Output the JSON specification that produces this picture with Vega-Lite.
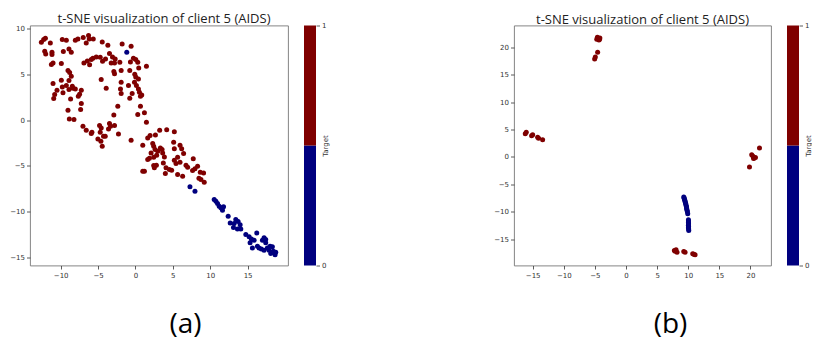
{
  "$schema": "https://vega.github.io/schema/vega-lite/v6.json",
  "padding": {"left": 9, "top": 11.5, "right": 0, "bottom": 0},
  "background": "white",
  "datasets": {
    "a": [
      {"x": -12.58, "y": 8.47, "target": 1}, {"x": -12.27, "y": 8.77, "target": 1}, {"x": -12.04, "y": 8.91, "target": 1}, {"x": -11.38, "y": 8.40, "target": 1},
      {"x": -12.13, "y": 7.49, "target": 1}, {"x": -12.0, "y": 7.20, "target": 1}, {"x": -11.16, "y": 7.39, "target": 1}, {"x": -11.16, "y": 7.13, "target": 1},
      {"x": -9.78, "y": 8.77, "target": 1}, {"x": -9.24, "y": 8.69, "target": 1}, {"x": -9.64, "y": 7.46, "target": 1}, {"x": -8.89, "y": 7.75, "target": 1},
      {"x": -8.58, "y": 7.39, "target": 1}, {"x": -8.04, "y": 8.69, "target": 1}, {"x": -7.69, "y": 8.84, "target": 1}, {"x": -6.98, "y": 8.98, "target": 1},
      {"x": -6.58, "y": 8.40, "target": 1}, {"x": -6.27, "y": 9.20, "target": 1}, {"x": -6.18, "y": 8.84, "target": 1}, {"x": -5.64, "y": 8.84, "target": 1},
      {"x": -4.44, "y": 8.51, "target": 1}, {"x": -3.69, "y": 8.15, "target": 1}, {"x": -1.78, "y": 8.29, "target": 1}, {"x": -0.58, "y": 8.04, "target": 1},
      {"x": -11.02, "y": 6.22, "target": 1}, {"x": -11.24, "y": 6.04, "target": 1}, {"x": -9.91, "y": 6.15, "target": 1}, {"x": -9.02, "y": 5.39, "target": 1},
      {"x": -8.80, "y": 5.17, "target": 1}, {"x": -8.58, "y": 4.77, "target": 1}, {"x": -6.89, "y": 6.22, "target": 1}, {"x": -6.44, "y": 6.44, "target": 1},
      {"x": -6.13, "y": 6.01, "target": 1}, {"x": -5.91, "y": 6.59, "target": 1}, {"x": -5.69, "y": 6.73, "target": 1}, {"x": -5.24, "y": 6.88, "target": 1},
      {"x": -4.71, "y": 6.84, "target": 1}, {"x": -4.40, "y": 6.41, "target": 1}, {"x": -4.0, "y": 6.66, "target": 1}, {"x": -3.47, "y": 7.24, "target": 1},
      {"x": -3.07, "y": 6.88, "target": 1}, {"x": -2.71, "y": 6.66, "target": 1}, {"x": -3.24, "y": 6.22, "target": 1}, {"x": -2.80, "y": 6.22, "target": 1},
      {"x": -2.09, "y": 6.30, "target": 1}, {"x": -0.67, "y": 6.33, "target": 1}, {"x": -0.27, "y": 6.73, "target": 1}, {"x": 0.04, "y": 6.59, "target": 1},
      {"x": 0.31, "y": 6.30, "target": 1}, {"x": 0.44, "y": 5.68, "target": 1}, {"x": 1.47, "y": 5.86, "target": 1}, {"x": -0.76, "y": 5.39, "target": 1},
      {"x": -11.02, "y": 3.97, "target": 1}, {"x": -10.8, "y": 2.77, "target": 1}, {"x": -10.93, "y": 2.34, "target": 1}, {"x": -10.49, "y": 3.25, "target": 1},
      {"x": -9.91, "y": 4.34, "target": 1}, {"x": -9.78, "y": 3.61, "target": 1}, {"x": -9.69, "y": 2.96, "target": 1}, {"x": -9.24, "y": 3.75, "target": 1},
      {"x": -8.89, "y": 4.30, "target": 1}, {"x": -8.89, "y": 3.32, "target": 1}, {"x": -8.44, "y": 3.68, "target": 1}, {"x": -8.36, "y": 3.46, "target": 1},
      {"x": -8.67, "y": 2.30, "target": 1}, {"x": -8.04, "y": 3.39, "target": 1}, {"x": -7.47, "y": 2.81, "target": 1}, {"x": -7.64, "y": 2.59, "target": 1},
      {"x": -7.24, "y": 3.25, "target": 1}, {"x": -4.58, "y": 4.41, "target": 1}, {"x": -3.91, "y": 3.46, "target": 1}, {"x": -2.89, "y": 5.28, "target": 1},
      {"x": -2.80, "y": 5.03, "target": 1}, {"x": -1.91, "y": 5.39, "target": 1}, {"x": -1.91, "y": 4.12, "target": 1}, {"x": -2.0, "y": 3.39, "target": 1},
      {"x": -1.91, "y": 2.88, "target": 1}, {"x": -0.93, "y": 3.75, "target": 1}, {"x": -0.09, "y": 4.99, "target": 1}, {"x": 0.04, "y": 4.70, "target": 1},
      {"x": 0.4, "y": 4.48, "target": 1}, {"x": -0.13, "y": 4.12, "target": 1}, {"x": 0.13, "y": 3.75, "target": 1}, {"x": 0.4, "y": 3.39, "target": 1},
      {"x": -0.44, "y": 2.88, "target": 1}, {"x": 0.53, "y": 3.03, "target": 1}, {"x": 0.67, "y": 2.59, "target": 1}, {"x": -0.76, "y": 2.37, "target": 1},
      {"x": 0.84, "y": 2.74, "target": 1}, {"x": -9.02, "y": 1.07, "target": 1}, {"x": -8.84, "y": 0.12, "target": 1}, {"x": -8.22, "y": 0.05, "target": 1},
      {"x": -7.24, "y": 1.79, "target": 1}, {"x": -7.33, "y": 1.14, "target": 1}, {"x": -2.36, "y": 1.50, "target": 1}, {"x": -2.89, "y": 0.56, "target": 1},
      {"x": 0.31, "y": 0.60, "target": 1}, {"x": 1.2, "y": 0.78, "target": 1}, {"x": 0.67, "y": 1.50, "target": 1}, {"x": 1.47, "y": -0.24, "target": 1},
      {"x": -7.02, "y": -0.68, "target": 1}, {"x": -6.58, "y": -1.11, "target": 1}, {"x": -5.82, "y": -1.33, "target": 1}, {"x": -5.91, "y": -1.47, "target": 1},
      {"x": -4.8, "y": -0.60, "target": 1}, {"x": -4.58, "y": -0.86, "target": 1}, {"x": -4.71, "y": -1.33, "target": 1}, {"x": -5.02, "y": -2.06, "target": 1},
      {"x": -4.62, "y": -2.31, "target": 1}, {"x": -4.44, "y": -2.85, "target": 1}, {"x": -4.27, "y": -1.76, "target": 1}, {"x": -4.04, "y": -1.76, "target": 1},
      {"x": -3.47, "y": -0.38, "target": 1}, {"x": -3.6, "y": -0.97, "target": 1}, {"x": -3.33, "y": -0.68, "target": 1}, {"x": -2.80, "y": -0.60, "target": 1},
      {"x": -2.27, "y": -1.51, "target": 1}, {"x": -0.58, "y": -2.20, "target": 1}, {"x": 0.98, "y": -2.75, "target": 1}, {"x": 1.64, "y": -1.95, "target": 1},
      {"x": 1.96, "y": -1.69, "target": 1}, {"x": 2.67, "y": -1.62, "target": 1}, {"x": 3.24, "y": -1.11, "target": 1}, {"x": 4.18, "y": -1.07, "target": 1},
      {"x": 5.2, "y": -1.29, "target": 1}, {"x": 2.31, "y": -2.56, "target": 1}, {"x": 2.44, "y": -2.85, "target": 1}, {"x": 2.62, "y": -3.22, "target": 1},
      {"x": 2.09, "y": -3.58, "target": 1}, {"x": 1.87, "y": -4.16, "target": 1}, {"x": 1.64, "y": -4.31, "target": 1}, {"x": 2.44, "y": -4.05, "target": 1},
      {"x": 2.84, "y": -3.83, "target": 1}, {"x": 2.98, "y": -3.40, "target": 1}, {"x": 3.33, "y": -3.04, "target": 1}, {"x": 3.56, "y": -3.22, "target": 1},
      {"x": 3.64, "y": -3.58, "target": 1}, {"x": 2.44, "y": -4.96, "target": 1}, {"x": 2.53, "y": -5.21, "target": 1}, {"x": 2.8, "y": -4.92, "target": 1},
      {"x": 3.87, "y": -4.02, "target": 1}, {"x": 3.73, "y": -4.67, "target": 1}, {"x": 4.09, "y": -5.21, "target": 1}, {"x": 4.53, "y": -5.40, "target": 1},
      {"x": 4.84, "y": -5.47, "target": 1}, {"x": 4.0, "y": -5.83, "target": 1}, {"x": 5.11, "y": -2.42, "target": 1}, {"x": 5.2, "y": -3.14, "target": 1},
      {"x": 5.96, "y": -2.75, "target": 1}, {"x": 6.18, "y": -3.14, "target": 1}, {"x": 6.44, "y": -3.65, "target": 1}, {"x": 5.64, "y": -4.05, "target": 1},
      {"x": 5.2, "y": -4.38, "target": 1}, {"x": 5.42, "y": -4.74, "target": 1}, {"x": 5.96, "y": -4.60, "target": 1}, {"x": 6.76, "y": -4.92, "target": 1},
      {"x": 7.73, "y": -4.23, "target": 1}, {"x": 6.98, "y": -5.14, "target": 1}, {"x": 7.64, "y": -5.50, "target": 1}, {"x": 7.96, "y": -5.32, "target": 1},
      {"x": 8.31, "y": -5.03, "target": 1}, {"x": 8.67, "y": -5.69, "target": 1}, {"x": 9.11, "y": -5.76, "target": 1}, {"x": 8.49, "y": -6.34, "target": 1},
      {"x": 8.76, "y": -6.49, "target": 1}, {"x": 9.2, "y": -6.78, "target": 1}, {"x": 5.64, "y": -5.94, "target": 1}, {"x": 6.31, "y": -6.12, "target": 1},
      {"x": 0.98, "y": -5.58, "target": 1}, {"x": 1.2, "y": -5.58, "target": 1},
      {"x": -1.16, "y": 7.39, "target": 0}, {"x": 7.29, "y": -7.28, "target": 0}, {"x": 7.96, "y": -7.76, "target": 0}, {"x": 10.53, "y": -8.66, "target": 0},
      {"x": 10.76, "y": -8.85, "target": 0}, {"x": 10.98, "y": -9.10, "target": 0}, {"x": 11.2, "y": -9.39, "target": 0}, {"x": 11.42, "y": -9.57, "target": 0},
      {"x": 11.78, "y": -9.46, "target": 0}, {"x": 11.64, "y": -9.83, "target": 0}, {"x": 12.4, "y": -10.48, "target": 0}, {"x": 12.67, "y": -11.21, "target": 0},
      {"x": 13.2, "y": -11.28, "target": 0}, {"x": 13.42, "y": -10.84, "target": 0}, {"x": 13.73, "y": -11.06, "target": 0}, {"x": 14.0, "y": -11.42, "target": 0},
      {"x": 13.64, "y": -11.86, "target": 0}, {"x": 14.09, "y": -11.86, "target": 0}, {"x": 14.76, "y": -12.48, "target": 0}, {"x": 15.2, "y": -12.73, "target": 0},
      {"x": 15.33, "y": -13.38, "target": 0}, {"x": 15.51, "y": -12.95, "target": 0}, {"x": 15.87, "y": -13.09, "target": 0}, {"x": 16.22, "y": -12.30, "target": 0},
      {"x": 16.31, "y": -13.75, "target": 0}, {"x": 16.53, "y": -13.93, "target": 0}, {"x": 16.98, "y": -13.09, "target": 0}, {"x": 17.2, "y": -12.84, "target": 0},
      {"x": 17.42, "y": -13.38, "target": 0}, {"x": 16.84, "y": -14.04, "target": 0}, {"x": 17.2, "y": -14.18, "target": 0}, {"x": 17.64, "y": -13.93, "target": 0},
      {"x": 17.87, "y": -14.18, "target": 0}, {"x": 18.0, "y": -13.75, "target": 0}, {"x": 18.31, "y": -13.82, "target": 0}, {"x": 18.09, "y": -14.55, "target": 0},
      {"x": 18.44, "y": -14.29, "target": 0}, {"x": 18.67, "y": -14.69, "target": 0}, {"x": 18.76, "y": -14.40, "target": 0}, {"x": 17.42, "y": -13.02, "target": 0},
      {"x": 15.64, "y": -13.93, "target": 0}, {"x": 13.11, "y": -11.71, "target": 0}
    ],
    "b": [
      {"x": -4.45, "y": 21.58, "target": 1}, {"x": -4.2, "y": 21.7, "target": 1}, {"x": -4.7, "y": 21.45, "target": 1}, {"x": -4.35, "y": 21.3, "target": 1},
      {"x": -4.6, "y": 21.8, "target": 1}, {"x": -4.25, "y": 21.45, "target": 1}, {"x": -4.56, "y": 19.09, "target": 1}, {"x": -4.93, "y": 18.23, "target": 1},
      {"x": -5.04, "y": 17.87, "target": 1},
      {"x": -16.03, "y": 4.48, "target": 1}, {"x": -16.19, "y": 4.24, "target": 1}, {"x": -15.0, "y": 4.05, "target": 1}, {"x": -15.17, "y": 3.87, "target": 1},
      {"x": -14.2, "y": 3.57, "target": 1}, {"x": -14.05, "y": 3.38, "target": 1}, {"x": -13.4, "y": 3.14, "target": 1},
      {"x": 21.45, "y": 1.62, "target": 1}, {"x": 20.2, "y": 0.40, "target": 1}, {"x": 20.6, "y": -0.21, "target": 1}, {"x": 20.4, "y": 0.10, "target": 1},
      {"x": 20.8, "y": -0.1, "target": 1}, {"x": 20.5, "y": -0.3, "target": 1}, {"x": 19.84, "y": -1.85, "target": 1},
      {"x": 7.77, "y": -17.07, "target": 1}, {"x": 8.2, "y": -17.37, "target": 1}, {"x": 8.04, "y": -16.94, "target": 1}, {"x": 7.9, "y": -17.2, "target": 1},
      {"x": 9.49, "y": -17.37, "target": 1}, {"x": 9.28, "y": -17.25, "target": 1}, {"x": 10.72, "y": -17.67, "target": 1}, {"x": 11.1, "y": -17.86, "target": 1},
      {"x": 10.9, "y": -17.75, "target": 1},
      {"x": 9.28, "y": -7.33, "target": 0}, {"x": 9.33, "y": -7.5, "target": 0}, {"x": 9.38, "y": -7.69, "target": 0}, {"x": 9.45, "y": -7.9, "target": 0},
      {"x": 9.49, "y": -8.12, "target": 0}, {"x": 9.55, "y": -8.35, "target": 0}, {"x": 9.60, "y": -8.55, "target": 0}, {"x": 9.65, "y": -8.8, "target": 0},
      {"x": 9.71, "y": -9.03, "target": 0}, {"x": 9.74, "y": -9.3, "target": 0}, {"x": 9.76, "y": -9.52, "target": 0}, {"x": 9.82, "y": -9.75, "target": 0},
      {"x": 9.87, "y": -10.01, "target": 0}, {"x": 9.92, "y": -10.37, "target": 0}, {"x": 10.03, "y": -11.47, "target": 0}, {"x": 10.03, "y": -11.7, "target": 0},
      {"x": 10.03, "y": -11.95, "target": 0}, {"x": 10.05, "y": -12.2, "target": 0}, {"x": 10.03, "y": -12.44, "target": 0}, {"x": 10.05, "y": -12.7, "target": 0},
      {"x": 10.03, "y": -12.93, "target": 0}, {"x": 10.06, "y": -13.15, "target": 0}, {"x": 10.08, "y": -13.41, "target": 0}
    ],
    "cb": [
      {"target": 0, "lo": 0, "hi": 0.5},
      {"target": 1, "lo": 0.5, "hi": 1}
    ]
  },
  "spacing": 16,
  "bounds": "flush",
  "hconcat": [
    {
      "width": 258, "height": 240,
      "title": {"text": "t-SNE visualization of client 5 (AIDS)", "dx": 5},
      "data": {"name": "a"},
      "mark": {"type": "circle", "size": 25, "opacity": 1},
      "encoding": {
        "x": {"field": "x", "type": "quantitative", "scale": {"domain": [-14.1, 20.4], "nice": false, "zero": false},
          "axis": {"values": [-10, -5, 0, 5, 10, 15], "title": "(a)", "titleFont": "Open Sans", "titleFontSize": 28, "titleFontWeight": "normal", "titleColor": "#000", "titleX": 155, "titleY": 59, "titleBaseline": "middle", "titleAlign": "center"}},
        "y": {"field": "y", "type": "quantitative", "scale": {"domain": [-15.85, 10.3], "nice": false, "zero": false},
          "axis": {"values": [-15, -10, -5, 0, 5, 10], "title": null}},
        "color": {"field": "target", "type": "nominal", "scale": {"domain": [0, 1], "range": ["#00007f", "#7f0000"]}, "legend": null}
      }
    },
    {
      "width": 12, "height": 240,
      "data": {"name": "cb"},
      "mark": {"type": "rect"},
      "view": {"stroke": null},
      "encoding": {
        "y": {"field": "lo", "type": "quantitative", "scale": {"domain": [0, 1], "nice": false, "zero": false},
          "axis": {"orient": "right", "values": [0, 1], "format": "d", "title": "Target", "titleAngle": 270, "titleFont": "DejaVu Sans", "titleFontSize": 7, "titleFontWeight": "normal", "titleColor": "#333", "titlePadding": 3}},
        "y2": {"field": "hi"},
        "color": {"field": "target", "type": "nominal", "scale": {"domain": [0, 1], "range": ["#00007f", "#7f0000"]}, "legend": null}
      }
    },
    {
      "width": 166, "height": 240,
      "data": {"values": []},
      "mark": "point",
      "view": {"stroke": null}
    },
    {
      "width": 257, "height": 240,
      "title": "t-SNE visualization of client 5 (AIDS)",
      "data": {"name": "b"},
      "mark": {"type": "circle", "size": 25, "opacity": 1},
      "encoding": {
        "x": {"field": "x", "type": "quantitative", "scale": {"domain": [-18.0, 23.3], "nice": false, "zero": false},
          "axis": {"values": [-15, -10, -5, 0, 5, 10, 15, 20], "title": "(b)", "titleFont": "Open Sans", "titleFontSize": 28, "titleFontWeight": "normal", "titleColor": "#000", "titleX": 156, "titleY": 59, "titleBaseline": "middle", "titleAlign": "center"}},
        "y": {"field": "y", "type": "quantitative", "scale": {"domain": [-19.8, 23.96], "nice": false, "zero": false},
          "axis": {"values": [-15, -10, -5, 0, 5, 10, 15, 20], "title": null}},
        "color": {"field": "target", "type": "nominal", "scale": {"domain": [0, 1], "range": ["#00007f", "#7f0000"]}, "legend": null}
      }
    },
    {
      "width": 12, "height": 240,
      "data": {"name": "cb"},
      "mark": {"type": "rect"},
      "view": {"stroke": null},
      "encoding": {
        "y": {"field": "lo", "type": "quantitative", "scale": {"domain": [0, 1], "nice": false, "zero": false},
          "axis": {"orient": "right", "values": [0, 1], "format": "d", "title": "Target", "titleAngle": 270, "titleFont": "DejaVu Sans", "titleFontSize": 7, "titleFontWeight": "normal", "titleColor": "#333", "titlePadding": 3}},
        "y2": {"field": "hi"},
        "color": {"field": "target", "type": "nominal", "scale": {"domain": [0, 1], "range": ["#00007f", "#7f0000"]}, "legend": null}
      }
    }
  ],
  "config": {
    "view": {"stroke": "#777", "strokeWidth": 0.9},
    "axis": {"grid": false, "domain": false, "ticks": true, "tickColor": "#333", "tickSize": 3.5, "tickWidth": 0.8, "labelFont": "DejaVu Sans", "labelFontSize": 7, "labelColor": "#333", "labelPadding": 2},
    "title": {"font": "Open Sans", "fontSize": 13, "fontWeight": "normal", "color": "#222", "offset": -1.5}
  }
}
